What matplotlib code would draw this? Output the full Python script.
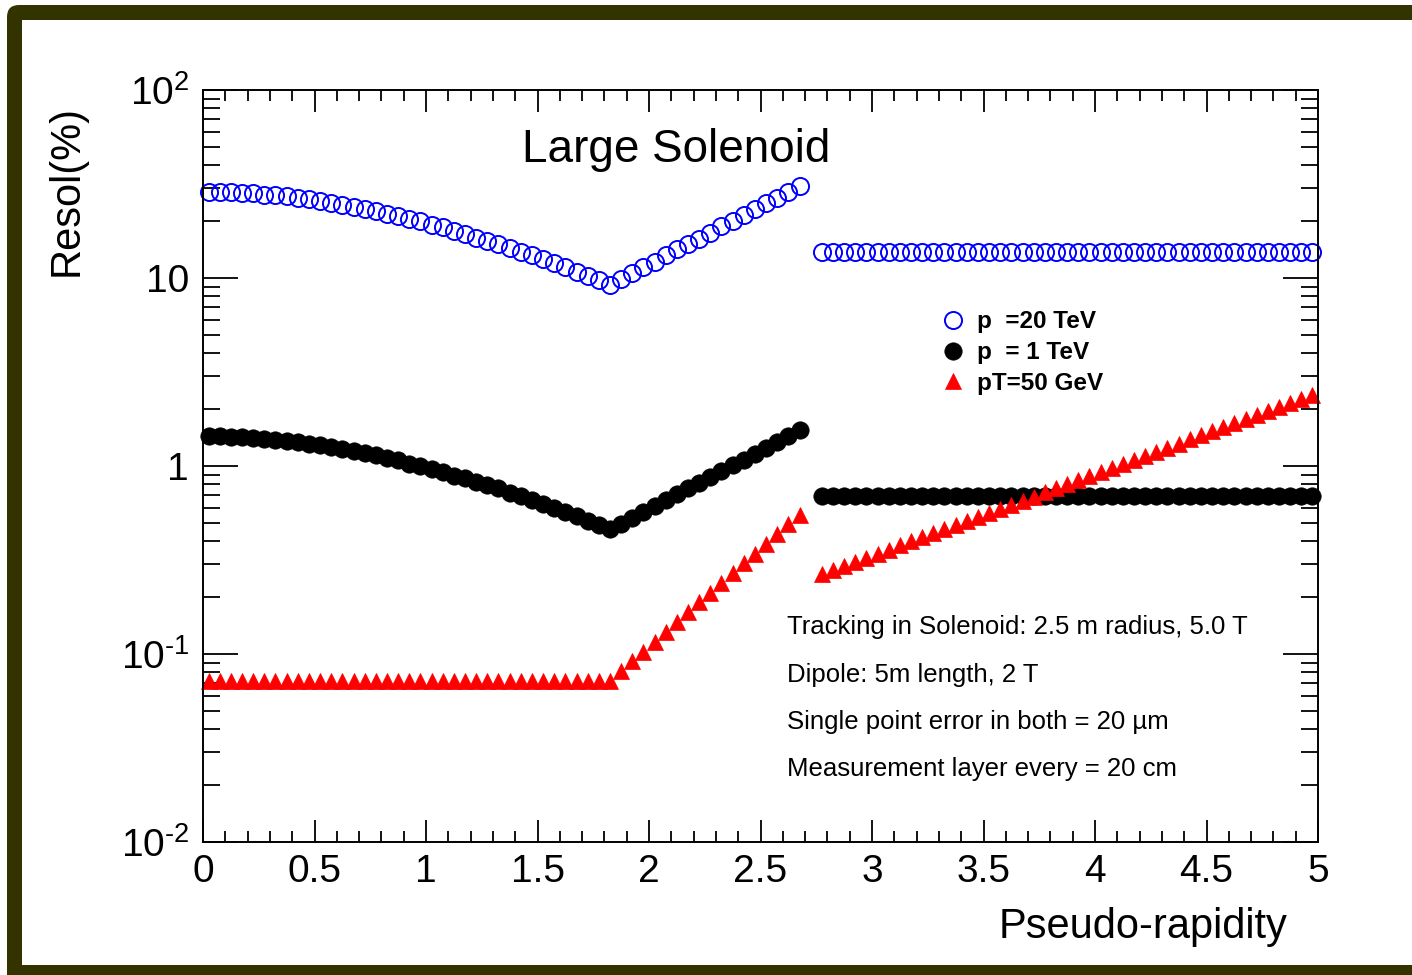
import numpy as np
import matplotlib
matplotlib.use("Agg")
import matplotlib.pyplot as plt
from matplotlib.patches import FancyBboxPatch, Rectangle

plt.rcParams['font.family'] = ['Liberation Sans', 'DejaVu Sans']
plt.rcParams['mathtext.fontset'] = 'custom'
plt.rcParams['mathtext.rm'] = 'Liberation Sans'
plt.rcParams['mathtext.it'] = 'Liberation Sans:italic'
plt.rcParams['mathtext.bf'] = 'Liberation Sans:bold'

# eta bin centres (0.05 wide), solenoid part and dipole part
eta_sol = np.arange(0.025, 2.70, 0.05)
eta_dip = np.arange(2.775, 5.0, 0.05)
eta = np.concatenate([eta_sol, eta_dip])

# resolution (%)
res_p1tev = [1.44, 1.44, 1.43, 1.42, 1.41, 1.39, 1.38, 1.36, 1.34, 1.31,
             1.29, 1.26, 1.23, 1.20, 1.17, 1.14, 1.10, 1.07, 1.03, 1.00,
             0.96, 0.93, 0.89, 0.86, 0.82, 0.79, 0.76, 0.72, 0.69, 0.66,
             0.63, 0.60, 0.57, 0.54, 0.51, 0.485, 0.46,
             0.494, 0.53, 0.57, 0.61, 0.66, 0.71, 0.76, 0.81, 0.87, 0.94,
             1.01, 1.08, 1.16, 1.25, 1.34, 1.44, 1.55] + [0.69] * 45

res_p20tev = [28.8, 28.8, 28.6, 28.4, 28.2, 27.8, 27.6, 27.2, 26.8, 26.2,
              25.8, 25.2, 24.6, 24.0, 23.4, 22.8, 22.0, 21.4, 20.6, 20.0,
              19.2, 18.6, 17.8, 17.2, 16.4, 15.8, 15.2, 14.4, 13.8, 13.2,
              12.6, 12.0, 11.4, 10.8, 10.2, 9.7, 9.2,
              9.9, 10.6, 11.4, 12.2, 13.2, 14.2, 15.2, 16.2, 17.4, 18.8,
              20.2, 21.6, 23.2, 25.0, 26.8, 28.8, 31.0] + [13.8] * 45

res_pt50 = [0.072] * 37 + \
           [0.081, 0.092, 0.103, 0.116, 0.131, 0.148, 0.167, 0.188, 0.212,
            0.239, 0.269, 0.303, 0.342, 0.385, 0.434, 0.489, 0.551] + \
           [0.266, 0.280, 0.294, 0.309, 0.325, 0.342, 0.359, 0.378, 0.397,
            0.417, 0.439, 0.461, 0.485, 0.510, 0.536, 0.563, 0.592, 0.622,
            0.654, 0.688, 0.723, 0.760, 0.799, 0.840, 0.883, 0.928, 0.976,
            1.026, 1.078, 1.134, 1.192, 1.253, 1.317, 1.385, 1.456, 1.530,
            1.609, 1.692, 1.778, 1.869, 1.965, 2.066, 2.172, 2.283, 2.400]

legend_labels = ['p  =20 TeV', 'p  = 1 TeV', 'pT=50 GeV']
info_lines = ['Tracking in Solenoid: 2.5 m radius, 5.0 T',
              'Dipole: 5m length, 2 T',
              'Single point error in both = 20 \u00b5m',
              'Measurement layer every = 20 cm']
xticks = [0, 0.5, 1, 1.5, 2, 2.5, 3, 3.5, 4, 4.5, 5]
xticklabels = ['0', '0.5', '1', '1.5', '2', '2.5', '3', '3.5', '4', '4.5', '5']
yticks = [0.01, 0.1, 1, 10, 100]
yticklabels = [r'$10^{\text{-}2}$', r'$10^{\text{-}1}$', '1', '10', '$10^{2}$']

W, H = 1412, 975
fig = plt.figure(figsize=(W / 100, H / 100), dpi=100)

# dark frame around the canvas
olive = '#333300'
frame = FancyBboxPatch((0.07, -0.5), 15.0, 10.2, boxstyle='round,pad=0,rounding_size=0.12',
                       transform=fig.dpi_scale_trans, facecolor=olive, edgecolor='none', zorder=-10)
inner = Rectangle((0.22, 0.10), 15.0, 9.45, transform=fig.dpi_scale_trans,
                  facecolor='white', edgecolor='none', zorder=-9)
fig.add_artist(frame)
fig.add_artist(inner)

ax = fig.add_axes([203 / W, 1 - 842 / H, (1318 - 203) / W, (842 - 90) / H])
ax.set_yscale('log')

l1, = ax.plot(eta, res_p20tev, 'o', ms=12.3, mfc='none', mec='blue', mew=1.4, clip_on=False)
l2, = ax.plot(eta, res_p1tev, 'o', ms=12.5, mfc='black', mec='black', mew=0.5, clip_on=False)
l3, = ax.plot(eta, res_pt50, '^', ms=11.5, mfc='red', mec='red', mew=0.5, clip_on=False)

ax.set_xlim(0, 5)
ax.set_ylim(0.01, 100)
ax.set_xticks(xticks)
ax.set_xticklabels(xticklabels)
ax.set_xticks(np.arange(0, 5.01, 0.1), minor=True)
ax.set_yticks(yticks)
ax.set_yticklabels(yticklabels)

for s in ax.spines.values():
    s.set_linewidth(1.4)
ax.tick_params(axis='x', which='major', direction='in', length=16, width=1.3,
               top=True, labelsize=28, pad=9)
ax.tick_params(axis='x', which='minor', direction='in', length=8, width=1.3, top=True)
ax.tick_params(axis='y', which='major', direction='in', length=25, width=1.3,
               right=True, labelsize=28, pad=10)
ax.tick_params(axis='y', which='minor', direction='in', length=12, width=1.3, right=True)
ax.yaxis.set_minor_formatter(matplotlib.ticker.NullFormatter())

ax.text(0.424, 0.920, 'Large Solenoid', transform=ax.transAxes, fontsize=33,
        ha='center', va='center')

leg = ax.legend([l1, l2, l3], legend_labels, loc='upper left',
                bbox_to_anchor=(0.655, 0.720), frameon=False,
                prop={'weight': 'bold', 'size': 17.5}, handlelength=0.8,
                handletextpad=0.6, labelspacing=0.32, borderaxespad=0)

info_y = [0.2860, 0.2221, 0.1596, 0.0971]
for txt, yy in zip(info_lines, info_y):
    ax.text(0.524, yy, txt, transform=ax.transAxes, fontsize=18.5, ha='left', va='center')

fig.text(1288 / W, 1 - 938 / H, 'Pseudo-rapidity', fontsize=30, ha='right', va='baseline')
fig.text(67 / W, 1 - 105 / H, 'Resol(%)', fontsize=30, rotation=90, ha='center', va='top')

fig.savefig('out.png', dpi=100)
